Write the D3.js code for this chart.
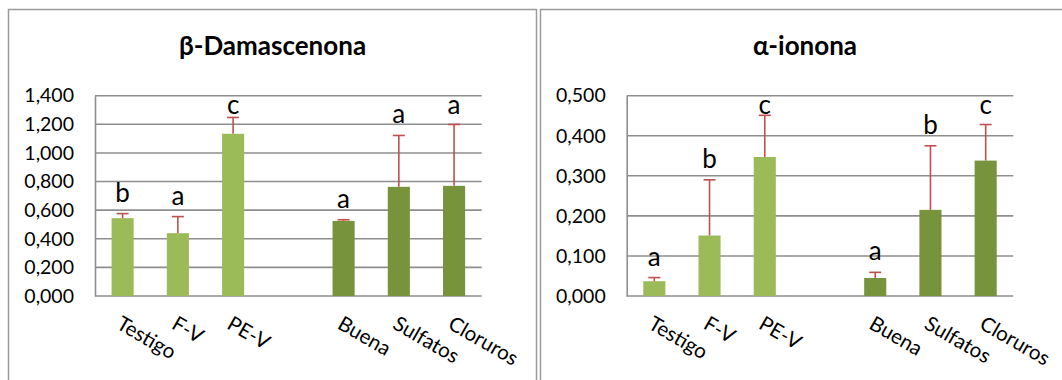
<!DOCTYPE html>
<html>
<head>
<meta charset="utf-8">
<script src="https://cdn.jsdelivr.net/npm/d3@7"></script>
<style>
  html, body { margin: 0; padding: 0; background: #ffffff; }
  svg { display: block; font-family: Lato, "Open Sans", sans-serif; }
</style>
</head>
<body>
<svg id="chart" width="1062" height="380"></svg>
<script>
// Treatments shown on the x axis; a blank slot separates the two groups.
const categories = ["Testigo", "F-V", "PE-V", "Buena", "Sulfatos", "Cloruros"];
const groupOf = ["vid", "vid", "vid", "agua", "agua", "agua"];
const slots = ["Testigo", "F-V", "PE-V", " ", "Buena", "Sulfatos", "Cloruros"];

// β-Damascenona: means, upper error (SD) and significance letters
const damascenonaMean = [0.544, 0.439, 1.134, 0.525, 0.763, 0.770];
const damascenonaErr = [0.032, 0.116, 0.114, 0.008, 0.359, 0.429];
const damascenonaLetters = ["b", "a", "c", "a", "a", "a"];
const damascenonaTicks = [0, 0.2, 0.4, 0.6, 0.8, 1.0, 1.2, 1.4];

// α-ionona: means, upper error (SD) and significance letters
const iononaMean = [0.037, 0.151, 0.347, 0.045, 0.215, 0.338];
const iononaErr = [0.009, 0.139, 0.104, 0.014, 0.160, 0.090];
const iononaLetters = ["a", "b", "c", "a", "b", "c"];
const iononaTicks = [0, 0.1, 0.2, 0.3, 0.4, 0.5];

const titles = ["β-Damascenona", "α-ionona"];

const colors = { vid: "#9bbb59", agua: "#77933c" };
const errColor = "#c0504d";
const gridColor = "#8e8e8e";
const frameColor = "#9a9a9a";

const locale = d3.formatLocale({ decimal: ",", thousands: ".", grouping: [3], currency: ["", ""] });
const fmt = locale.format(".3f");

const svg = d3.select("#chart");

// Chart frames
svg.append("rect").attr("x", 8.5).attr("y", 9.5).attr("width", 528).attr("height", 400)
  .attr("fill", "none").attr("stroke", frameColor).attr("stroke-width", 1.5);
svg.append("rect").attr("x", 540.5).attr("y", 9.5).attr("width", 560).attr("height", 400)
  .attr("fill", "none").attr("stroke", frameColor).attr("stroke-width", 1.5);

function drawPanel(opt) {
  const g = svg.append("g");
  const x = d3.scaleBand().domain(slots).range([opt.x0, opt.x1]).paddingInner(0.6).paddingOuter(0.3);
  const y = d3.scaleLinear().domain([0, opt.max]).range([296, 95.7]);

  // title
  g.append("text").attr("x", opt.titleX).attr("y", 55)
    .attr("text-anchor", "middle").attr("font-weight", 700).attr("font-size", 26)
    .attr("fill", "#000").text(opt.title);

  // horizontal gridlines
  g.append("g").selectAll("line").data(opt.ticks).join("line")
    .attr("x1", opt.x0).attr("x2", opt.x1)
    .attr("y1", d => y(d)).attr("y2", d => y(d))
    .attr("stroke", gridColor).attr("stroke-width", 1.6);

  // y axis
  const yAxis = d3.axisLeft(y).tickValues(opt.ticks).tickFormat(fmt).tickSize(0).tickPadding(21);
  const ya = g.append("g").attr("transform", `translate(${opt.x0},0)`).call(yAxis);
  ya.select(".domain").attr("stroke", gridColor).attr("stroke-width", 1.6);
  ya.selectAll("text").attr("font-size", 19.5).attr("font-family", "Lato, sans-serif").attr("fill", "#000");

  // bars
  const rows = categories.map((c, i) => ({
    cat: c, group: groupOf[i], mean: opt.mean[i], err: opt.err[i], letter: opt.letters[i]
  }));

  g.append("g").selectAll("rect").data(rows).join("rect")
    .attr("x", d => x(d.cat)).attr("width", x.bandwidth())
    .attr("y", d => y(d.mean)).attr("height", d => y(0) - y(d.mean))
    .attr("fill", d => colors[d.group]);

  // upper error bars
  const eg = g.append("g").attr("stroke", errColor).attr("stroke-width", 1.6);
  eg.selectAll("line.v").data(rows).join("line").attr("class", "v")
    .attr("x1", d => x(d.cat) + x.bandwidth() / 2).attr("x2", d => x(d.cat) + x.bandwidth() / 2)
    .attr("y1", d => y(d.mean)).attr("y2", d => y(d.mean + d.err));
  eg.selectAll("line.c").data(rows).join("line").attr("class", "c")
    .attr("x1", d => x(d.cat) + x.bandwidth() / 2 - 6).attr("x2", d => x(d.cat) + x.bandwidth() / 2 + 6)
    .attr("y1", d => y(d.mean + d.err)).attr("y2", d => y(d.mean + d.err));

  // significance letters above the error bars, kept inside the plot
  g.append("g").selectAll("text").data(rows).join("text")
    .attr("x", d => x(d.cat) + x.bandwidth() / 2)
    .attr("y", d => Math.max(y(d.mean + d.err) - 12, y(opt.max) + 18.5))
    .attr("text-anchor", "middle").attr("font-size", 26).attr("fill", "#000")
    .text(d => d.letter);

  // rotated category labels
  g.append("g").selectAll("text").data(categories).join("text")
    .attr("transform", d => `translate(${x(d) + x.bandwidth() / 2},315) rotate(30)`)
    .attr("dy", "0.72em").attr("font-size", 20.5).attr("fill", "#000")
    .text(d => d);
}

drawPanel({
  title: titles[0], titleX: 272.5, x0: 95, x1: 481.7, max: 1.4,
  ticks: damascenonaTicks, mean: damascenonaMean, err: damascenonaErr, letters: damascenonaLetters
});
drawPanel({
  title: titles[1], titleX: 805, x0: 626.7, x1: 1013.3, max: 0.5,
  ticks: iononaTicks, mean: iononaMean, err: iononaErr, letters: iononaLetters
});
</script>
</body>
</html>
